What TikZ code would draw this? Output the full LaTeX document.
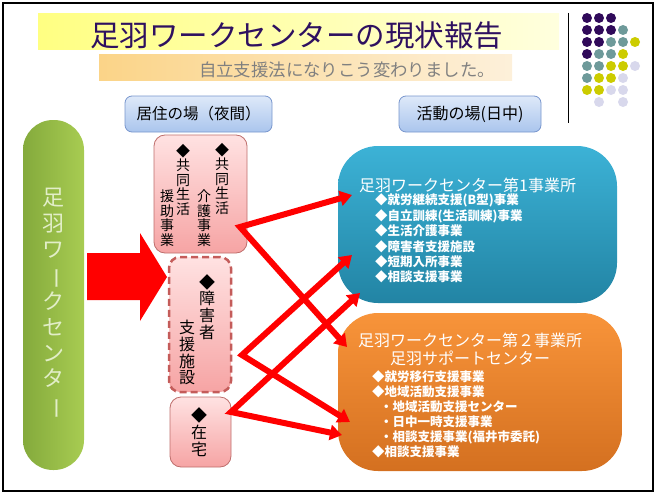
\documentclass[tikz,border=0pt]{standalone}
\usepackage{fontspec}
\setmainfont{Noto Sans CJK JP}
\usepackage{graphicx}
\usetikzlibrary{arrows.meta}

\definecolor{ttlpurple}{RGB}{46,16,96}
\definecolor{dotpurple}{RGB}{48,10,90}
\definecolor{dotteal}{RGB}{110,154,154}
\definecolor{dotyellow}{RGB}{204,204,0}
\definecolor{dotlav}{RGB}{216,216,236}
\definecolor{hdrtop}{RGB}{222,233,249}
\definecolor{hdrbot}{RGB}{170,197,237}
\definecolor{hdrline}{RGB}{120,150,205}
\definecolor{pinktop}{RGB}{255,226,226}
\definecolor{pinkbot}{RGB}{246,164,164}
\definecolor{pinkline}{RGB}{190,110,108}
\definecolor{dashline}{RGB}{196,92,90}
\definecolor{greenL}{RGB}{132,170,60}
\definecolor{greenR}{RGB}{168,204,82}
\definecolor{greentxt}{RGB}{226,238,200}
\definecolor{bluetop}{RGB}{60,178,214}
\definecolor{bluebot}{RGB}{34,132,164}
\definecolor{orgtop}{RGB}{248,148,58}
\definecolor{orgbot}{RGB}{212,112,32}
\newcommand\vbar{\rotatebox[origin=c]{-90}{ー}}

\tikzset{
  hdrbox/.style={draw=hdrline, line width=0.8pt, rounded corners=7pt, top color=hdrtop, bottom color=hdrbot, minimum height=36pt, inner sep=0pt, font=\fontsize{15.5}{16}\selectfont},
  pinkbox/.style={draw=pinkline, line width=0.8pt, rounded corners=11pt, top color=pinktop, bottom color=pinkbot, inner sep=0pt},
  vcol/.style={align=center, inner sep=0pt, anchor=north},
  redarrow/.style={draw=red, line width=6pt, line join=miter, {Triangle[length=12pt,width=15pt]}-{Triangle[length=12pt,width=15pt]}},
  wtext/.style={text=white, anchor=west, inner sep=0pt, font=\fontsize{12.5}{13}\selectfont\bfseries},
  wtitle/.style={text=white, anchor=west, inner sep=0pt, font=\fontsize{16}{17}\selectfont},
}

\begin{document}
\begin{tikzpicture}[x=1pt, y=-1pt]
			%%%%% START %%%%%
			\useasboundingbox (0,0) rectangle (658,495);
			\draw[line width=1.2pt] (3,3) rectangle (653,491);
			
			% title bands
			\shade[left color={rgb,255:red,255;green,255;blue,130}, right color={rgb,255:red,255;green,255;blue,222}] (38,14) rectangle (559,50);
			\node[text=ttlpurple, font=\fontsize{29.5}{30}\selectfont, inner sep=0pt] (title) at (296.5,35) {足羽ワークセンターの現状報告};
			\shade[left color={rgb,255:red,251;green,212;blue,136}, right color={rgb,255:red,253;green,240;blue,218}] (99,55) rectangle (512,80);
			\node[text=black!50, font=\fontsize{17.4}{18}\selectfont, inner sep=0pt] (subtitle) at (347,70) {自立支援法になりこう変わりました。};
			
			\draw[line width=0.8pt] (568,13) -- (568,123);
			\foreach \c/\r/\clr in {1/1/dotpurple,2/1/dotpurple,3/1/dotpurple,
				1/2/dotpurple,2/2/dotpurple,3/2/dotpurple,4/2/dotteal,
				1/3/dotpurple,2/3/dotpurple,3/3/dotteal,4/3/dotteal,5/3/dotyellow,
				1/4/dotpurple,2/4/dotteal,3/4/dotteal,4/4/dotyellow,
				1/5/dotteal,2/5/dotteal,3/5/dotyellow,4/5/dotyellow,5/5/dotlav,
				1/6/dotteal,2/6/dotyellow,3/6/dotyellow,4/6/dotlav,
				1/7/dotyellow,2/7/dotyellow,3/7/dotlav,4/7/dotlav,
				2/8/dotlav,4/8/dotlav}
				\fill[\clr] (575+12*\c, 6+12*\r) circle (5pt);
			
			% headers
			\node[hdrbox, minimum width=147pt] (night) at (198.5,114) {居住の場（夜間）};
			\node[hdrbox, minimum width=142pt, font=\fontsize{16}{17}\selectfont] (day) at (470,114) {活動の場(日中)};
			
			% left side
			\node[rounded corners=30pt, left color=greenL, right color=greenR, minimum width=61pt, minimum height=350pt, inner sep=0pt] (center) at (53.5,295) {};
			\node[vcol, text=greentxt, font=\fontsize{22}{25.9}\selectfont] (centertxt) at (53.5,188) {足\\羽\\ワ\\\vbar\\ク\\セ\\ン\\タ\\\vbar};
			\fill[red] (87,253) -- (140,253) -- (140,233) -- (167,277) -- (140,321) -- (140,300) -- (87,300) -- cycle;
			
			\node[pinkbox, minimum width=93pt, minimum height=118pt] (group) at (200.5,194) {};
			\node[vcol, font=\fontsize{14}{14.5}\selectfont] (groupA) at (222,143) {◆\\共\\同\\生\\活};
			\node[vcol, font=\fontsize{14}{14.5}\selectfont] (groupB) at (204,190) {介\\護\\事\\業};
			\node[vcol, font=\fontsize{14}{14.5}\selectfont] (groupC) at (183,144) {◆\\共\\同\\生\\活};
			\node[vcol, font=\fontsize{14}{14.5}\selectfont] (groupD) at (167,190) {援\\助\\事\\業};
			
			\node[pinkbox, draw=dashline, line width=2.5pt, dash pattern=on 7pt off 4pt, minimum width=62pt, minimum height=135pt] (facility) at (200,324.5) {};
			\node[vcol, font=\fontsize{16}{16.7}\selectfont] (facilityA) at (207,274) {◆\\障\\害\\者};
			\node[vcol, font=\fontsize{16}{16.7}\selectfont] (facilityB) at (187,320) {支\\援\\施\\設};
			
			\node[pinkbox, minimum width=61pt, minimum height=70pt] (home) at (200.5,432) {};
			\node[vcol, font=\fontsize{16}{17}\selectfont] (homeA) at (199,407) {◆\\在\\宅};
			
			% right side
			\node[rounded corners=40pt, top color=bluetop, bottom color=bluebot, minimum width=279pt, minimum height=157pt, inner sep=0pt] (first) at (477.5,224.5) {};
			\node[wtitle] (firstT) at (359,185) {足羽ワークセンター第1事業所};
			\node[wtext] (f1) at (375,200) {◆就労継続支援(B型)事業};
			\node[wtext] (f2) at (375,216) {◆自立訓練(生活訓練)事業};
			\node[wtext] (f3) at (375,231) {◆生活介護事業};
			\node[wtext] (f4) at (375,247) {◆障害者支援施設};
			\node[wtext] (f5) at (375,262) {◆短期入所事業};
			\node[wtext] (f6) at (375,277) {◆相談支援事業};
			
			\node[rounded corners=40pt, top color=orgtop, bottom color=orgbot, minimum width=284pt, minimum height=158pt, inner sep=0pt] (second) at (480,392) {};
			\node[wtitle] (secondT) at (358,340) {足羽ワークセンター第２事業所};
			\node[wtitle, anchor=center] (secondS) at (470,358) {足羽サポートセンター};
			\node[wtext] (s1) at (372,377) {◆就労移行支援事業};
			\node[wtext] (s2) at (372,392) {◆地域活動支援事業};
			\node[wtext] (s3) at (380,407) {・地域活動支援センター};
			\node[wtext] (s4) at (380,422) {・日中一時支援事業};
			\node[wtext] (s5) at (380,437) {・相談支援事業(福井市委託)};
			\node[wtext] (s6) at (372,452) {◆相談支援事業};
			
			% red connectors
			\coordinate (v1) at (240,227);
			\coordinate (v2) at (242,355);
			\coordinate (v3) at (231,412);
			\coordinate (e1) at (352,195);
			\coordinate (e2) at (347,347);
			\coordinate (e3) at (352,255);
			\coordinate (e4) at (350,422);
			\coordinate (e5) at (360,293);
			\coordinate (e6) at (342,435);
			\draw[redarrow] (e1) -- (v1) -- (e2);
			\draw[redarrow] (e3) -- (v2) -- (e4);
			\draw[redarrow] (e5) -- (v3) -- (e6);
			%%%%% END %%%%%
\end{tikzpicture}
\end{document}
